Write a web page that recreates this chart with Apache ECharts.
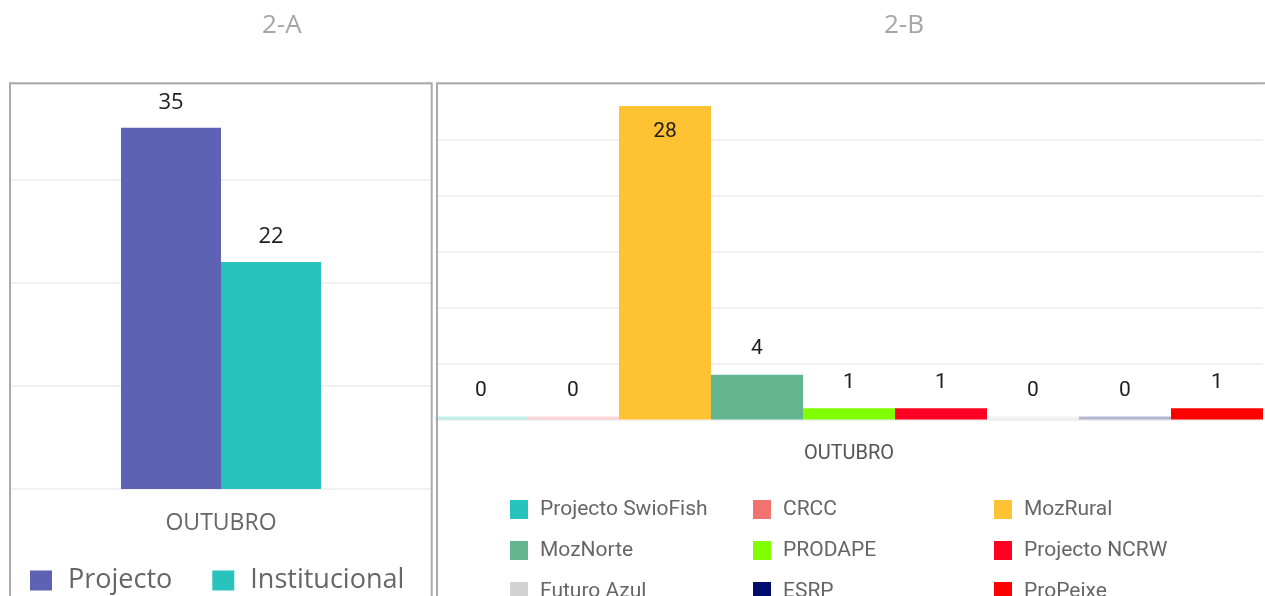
<!DOCTYPE html>
<html>
<head>
<meta charset="utf-8">
<script src="https://cdn.jsdelivr.net/npm/echarts@6/dist/echarts.min.js"></script>
<style>
html,body{margin:0;padding:0;background:#fff;}
#c{width:1265px;height:596px;}
</style>
</head>
<body>
<div id="c"></div>
<script>
// ---- data ----
var monthA = ['OUTUBRO'];
var seriesNamesA = ['Projecto', 'Institucional'];
var valuesA = [35, 22];
var colorsA = ['#5D62B5', '#29C3BE'];

var monthB = ['OUTUBRO'];
var seriesNamesB = ['Projecto SwioFish', 'CRCC', 'MozRural', 'MozNorte', 'PRODAPE', 'Projecto NCRW', 'Futuro Azul', 'ESRP', 'ProPeixe'];
var valuesB = [0, 0, 28, 4, 1, 1, 0, 0, 1];
var colorsB = ['#29C3BE', '#F2726F', '#FFC233', '#62B58F', '#7FFF00', '#FF0022', '#D3D3D3', '#000C6E', '#FF0000'];
var legendCol1 = ['Projecto SwioFish', 'MozNorte', 'Futuro Azul'];
var legendCol2 = ['CRCC', 'PRODAPE', 'ESRP'];
var legendCol3 = ['MozRural', 'Projecto NCRW', 'ProPeixe'];

// ---- chart ----
var chart = echarts.init(document.getElementById('c'), null, {renderer: 'canvas'});

var series = [];
seriesNamesA.forEach(function (n, i) {
  series.push({
    name: n, type: 'bar', xAxisIndex: 0, yAxisIndex: 0,
    barWidth: 100, barGap: '0%',
    itemStyle: {color: colorsA[i]},
    label: {show: true, position: 'top', distance: 14, color: '#1e1e1e',
            fontFamily: 'Open Sans', fontSize: 22},
    data: [valuesA[i]]
  });
});
seriesNamesB.forEach(function (n, i) {
  var v = valuesB[i];
  var insideTop = v >= 25;
  series.push({
    name: n, type: 'bar', xAxisIndex: 1, yAxisIndex: 1,
    barGap: '0%', barCategoryGap: '0%', barMinHeight: 3,
    itemStyle: {color: colorsB[i]},
    label: {show: true, position: insideTop ? 'insideTop' : 'top', distance: 15,
            color: '#1e1e1e', fontFamily: 'Roboto', fontSize: 21},
    data: [v === 0 ? {value: v, itemStyle: {opacity: 0.3}, label: {opacity: 1}} : v]
  });
});

var legendText = {color: '#666', fontFamily: 'Roboto', fontSize: 21, padding: [0, 0, 0, 7]};
function legB(left, data) {
  return {orient: 'vertical', left: left, top: 499, width: 240, height: 200, padding: 0, icon: 'rect',
          itemWidth: 18, itemHeight: 19, itemGap: 20, textStyle: legendText,
          data: data, selectedMode: false};
}

chart.setOption({
  animation: false,
  title: [
    {text: '2-A', left: 262, top: 13, padding: 0,
     textStyle: {color: '#a6a6a6', fontFamily: 'Open Sans', fontSize: 26, fontWeight: 'normal'}},
    {text: '2-B', left: 884, top: 13, padding: 0,
     textStyle: {color: '#a6a6a6', fontFamily: 'Open Sans', fontSize: 26, fontWeight: 'normal'}}
  ],
  grid: [
    {left: 11, top: 83.3, width: 420, height: 405.7, containLabel: false},
    {left: 435, top: 83.5, width: 828, height: 336, containLabel: false}
  ],
  xAxis: [
    {type: 'category', gridIndex: 0, data: monthA,
     axisLine: {show: false}, axisTick: {show: false},
     axisLabel: {margin: 23, color: '#666', fontFamily: 'Open Sans', fontSize: 23}},
    {type: 'category', gridIndex: 1, data: monthB,
     axisLine: {show: false}, axisTick: {show: false},
     axisLabel: {margin: 24, color: '#555', fontFamily: 'Roboto', fontSize: 20}}
  ],
  yAxis: [
    {type: 'value', gridIndex: 0, min: 0, max: 39.3, interval: 10,
     axisLabel: {show: false}, axisLine: {show: false}, axisTick: {show: false},
     splitLine: {lineStyle: {color: '#f1f1f1', width: 2}}},
    {type: 'value', gridIndex: 1, min: 0, max: 30, interval: 5,
     axisLabel: {show: false}, axisLine: {show: false}, axisTick: {show: false},
     splitLine: {lineStyle: {color: '#f1f1f1', width: 2}}}
  ],
  legend: [
    {orient: 'horizontal', left: 30, top: 567, width: 420, height: 60, padding: 0, icon: 'rect',
     itemWidth: 22, itemHeight: 20, itemGap: 40, selectedMode: false,
     textStyle: {color: '#666', fontFamily: 'Open Sans', fontSize: 27, padding: [0, 0, 0, 11]},
     data: seriesNamesA},
    legB(510, legendCol1),
    legB(753, legendCol2),
    legB(994, legendCol3)
  ],
  graphic: [
    {type: 'rect', z: 100, silent: true, shape: {x: 10, y: 83.3, width: 421.7, height: 600},
     style: {fill: 'none', stroke: '#ababab', lineWidth: 2}},
    {type: 'rect', z: 100, silent: true, shape: {x: 437, y: 83.3, width: 900, height: 600},
     style: {fill: 'none', stroke: '#ababab', lineWidth: 2}}
  ],
  series: series
});
</script>
</body>
</html>
